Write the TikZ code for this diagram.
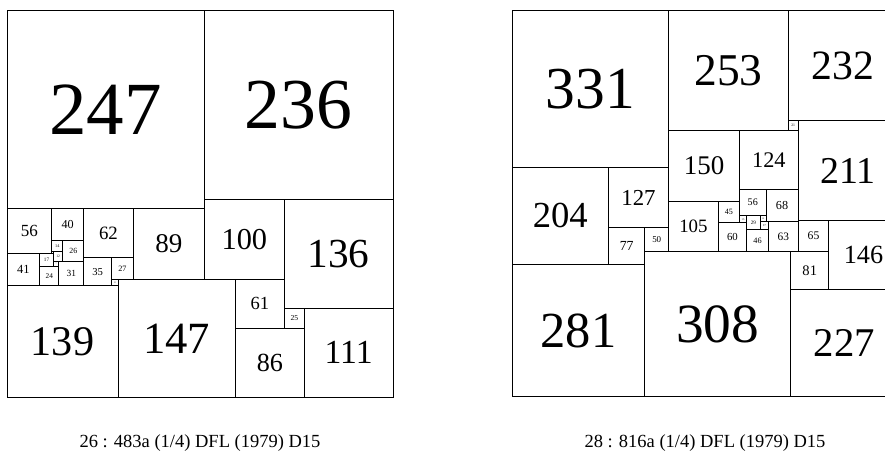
\documentclass[tikz,border=0pt]{standalone}
\usepackage{fontspec}
\setmainfont{Liberation Serif}
\tikzset{
  sqline/.style={draw=black,line width=1bp},
  sqlabel/.style={inner sep=0pt,text=black},
  captxt/.style={inner sep=0pt,anchor=base,font=\fontsize{18.5bp}{18.5bp}\selectfont}
}
\newcommand\sqOX{0}
\newcommand\sqOY{0}
\newcommand\sqK{1}
\newcommand\Sq[4]{%
  \pgfmathsetmacro\sqX{\sqOX+#2*\sqK}%
  \pgfmathsetmacro\sqY{\sqOY+#3*\sqK}%
  \pgfmathsetmacro\sqS{#4*\sqK}%
  \pgfmathsetmacro\sqF{0.38*#4*\sqK}%
  \draw[sqline] (\sqX,\sqY) rectangle ++(\sqS,\sqS);
  \node[sqlabel] (#1) at (\sqX+\sqS/2,\sqY+\sqS/2) {\fontsize{\sqF bp}{\sqF bp}\selectfont #4};
}
\begin{document}
\begin{tikzpicture}[x=1bp,y=-1bp]
\useasboundingbox (0,0) rectangle (885,452);
\clip (0,0) rectangle (885,452);
% left squared square 483
\renewcommand\sqOX{7}\renewcommand\sqOY{11}\renewcommand\sqK{0.7992}
\Sq{La}{0}{0}{247}
\Sq{Lb}{247}{0}{236}
\Sq{Lc}{0}{247}{56}
\Sq{Ld}{56}{247}{40}
\Sq{Le}{96}{247}{62}
\Sq{Lf}{158}{247}{89}
\Sq{Lg}{247}{236}{100}
\Sq{Lh}{347}{236}{136}
\Sq{Li}{0}{303}{41}
\Sq{Lj}{56}{287}{14}
\Sq{Lk}{70}{287}{26}
\Sq{Ll}{58}{301}{12}
\Sq{Lm}{56}{301}{2}
\Sq{Ln}{41}{303}{17}
\Sq{Lo}{58}{313}{7}
\Sq{Lp}{41}{320}{24}
\Sq{Lq}{65}{313}{31}
\Sq{Lr}{96}{309}{35}
\Sq{Ls}{131}{309}{27}
\Sq{Lt}{131}{336}{8}
\Sq{Lu}{0}{344}{139}
\Sq{Lv}{139}{336}{147}
\Sq{Lw}{286}{336}{61}
\Sq{Lx}{347}{372}{25}
\Sq{Ly}{286}{397}{86}
\Sq{Lz}{372}{372}{111}
% right squared square 816
\renewcommand\sqOX{512}\renewcommand\sqOY{11}\renewcommand\sqK{0.4730}
\Sq{Ra}{0}{0}{331}
\Sq{Rb}{331}{0}{253}
\Sq{Rc}{584}{0}{232}
\Sq{Rd}{584}{232}{21}
\Sq{Re}{605}{232}{211}
\Sq{Rf}{331}{253}{150}
\Sq{Rg}{481}{253}{124}
\Sq{Rh}{0}{331}{204}
\Sq{Ri}{204}{331}{127}
\Sq{Rj}{204}{458}{77}
\Sq{Rk}{281}{458}{50}
\Sq{Rl}{331}{403}{105}
\Sq{Rm}{436}{403}{45}
\Sq{Rn}{481}{377}{56}
\Sq{Ro}{537}{377}{68}
\Sq{Rp}{481}{433}{15}
\Sq{Rq}{496}{433}{29}
\Sq{Rr}{525}{433}{12}
\Sq{Rs}{525}{445}{17}
\Sq{Rt}{436}{448}{60}
\Sq{Ru}{496}{462}{46}
\Sq{Rv}{542}{445}{63}
\Sq{Rw}{605}{443}{65}
\Sq{Rx}{589}{508}{81}
\Sq{Ry}{670}{443}{146}
\Sq{Rz}{0}{535}{281}
\Sq{RA}{281}{508}{308}
\Sq{RB}{589}{589}{227}
% captions
\node[captxt] (cap1) at (200,447) {26 : 483a (1/4) DFL (1979) D15};
\node[captxt] (cap2) at (705,447) {28 : 816a (1/4) DFL (1979) D15};
\end{tikzpicture}
\end{document}
